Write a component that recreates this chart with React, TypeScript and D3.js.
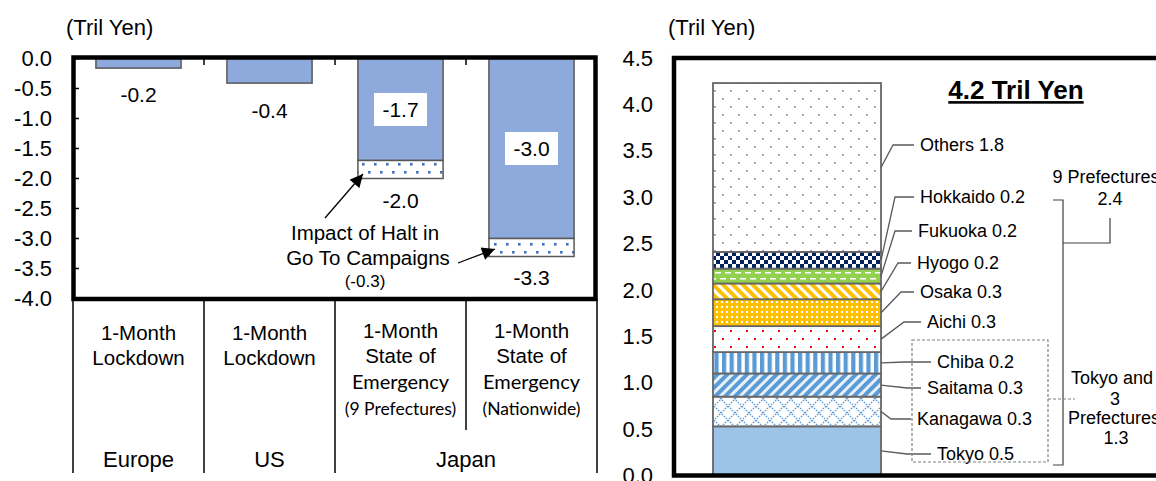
import React from 'react';
import * as d3 from 'd3';

// ---------- Left chart data ----------
const categories = ['Europe', 'US', 'Japan9', 'JapanNationwide'];
const lockdownImpact = [-0.16, -0.41, -1.7, -3.0];
const goToImpact = [0, 0, -0.3, -0.3];
const leftTicks = [0, -0.5, -1.0, -1.5, -2.0, -2.5, -3.0, -3.5, -4.0];
const catLinesMain = [
  ['1-Month', 'Lockdown'],
  ['1-Month', 'Lockdown'],
  ['1-Month', 'State of'],
  ['1-Month', 'State of'],
];
const catLinesSmall = [[], [], ['Emergency', '(9 Prefectures)'], ['Emergency', '(Nationwide)']];
const regionNames = ['Europe', 'US', 'Japan'];
const regionSpans = [[0, 0], [1, 1], [2, 3]];

// ---------- Right chart data ----------
const prefectures = ['Tokyo', 'Kanagawa', 'Saitama', 'Chiba', 'Aichi', 'Osaka', 'Hyogo', 'Fukuoka', 'Hokkaido', 'Others'];
const prefValues = [0.53, 0.32, 0.25, 0.23, 0.28, 0.29, 0.17, 0.16, 0.18, 1.82];
const rightTicks = [0, 0.5, 1.0, 1.5, 2.0, 2.5, 3.0, 3.5, 4.0, 4.5];

// ---------- Layout (positions only) ----------
const SANS = 'Liberation Sans, Arial, sans-serif';
const CAL = 'Lato, Carlito, Calibri, sans-serif';
const valueLabelOffset = [27, 28, 22, 21];
const prefLabelLayout: Record<string, { tx: number; ty: number; ex: number }> = {
  Others: { tx: 920, ty: 145, ex: 893 },
  Hokkaido: { tx: 920, ty: 197, ex: 895 },
  Fukuoka: { tx: 918, ty: 231, ex: 895 },
  Hyogo: { tx: 917, ty: 263, ex: 898 },
  Osaka: { tx: 920, ty: 292, ex: 901 },
  Aichi: { tx: 927, ty: 322, ex: 904 },
  Chiba: { tx: 937, ty: 362, ex: 905 },
  Saitama: { tx: 927, ty: 388, ex: 907 },
  Kanagawa: { tx: 917, ty: 419, ex: 891 },
  Tokyo: { tx: 937, ty: 454, ex: 907 },
};
const prefFill: Record<string, string> = {
  Tokyo: '#9DC3E6',
  Kanagawa: 'url(#pKanagawa)',
  Saitama: 'url(#pSaitama)',
  Chiba: 'url(#pChiba)',
  Aichi: 'url(#pAichi)',
  Osaka: 'url(#pOsaka)',
  Hyogo: 'url(#pHyogo)',
  Fukuoka: 'url(#pFukuoka)',
  Hokkaido: 'url(#pHokkaido)',
  Others: 'url(#pOthers)',
};

export default function App() {
  // Left scales
  const xL = d3.scaleBand<string>().domain(categories).range([73, 597]).paddingInner(0.35).paddingOuter(0.175);
  const yL = d3.scaleLinear().domain([0, -4]).range([58.5, 298.5]);
  const fmt = (v: number) => v.toFixed(1);

  // Right scales
  const yR = d3.scaleLinear().domain([0, 4.5]).range([475.5, 58]);
  const xR = d3.scaleBand<string>().domain(['total']).range([674, 920]).paddingOuter(0.232);
  const stack: { name: string; v0: number; v1: number }[] = [];
  let acc = 0;
  prefectures.forEach((p, i) => {
    stack.push({ name: p, v0: acc, v1: acc + prefValues[i] });
    acc += prefValues[i];
  });
  const total = acc;
  const ninePref = d3.sum(prefValues.slice(0, 9));
  const tokyo3 = d3.sum(prefValues.slice(0, 4));
  const bx = xR('total')!;
  const bw = xR.bandwidth();

  const step = xL.step();
  const boundary = (i: number) => 73 + i * step;

  return (
    <svg width={1156} height={481} style={{ position: 'absolute', left: 0, top: 0 }} fontFamily={SANS}>
      <defs>
        <pattern id="pGoTo" width="12" height="16" patternUnits="userSpaceOnUse">
          <rect width="12" height="16" fill="#fff" />
          <rect x="2" y="3" width="2.6" height="2.6" fill="#4472C4" />
          <rect x="8" y="11" width="2.6" height="2.6" fill="#4472C4" />
        </pattern>
        <pattern id="pOthers" width="16" height="16" patternUnits="userSpaceOnUse">
          <rect width="16" height="16" fill="#fff" />
          <rect x="2" y="2" width="1.7" height="1.7" fill="#8a8a8a" />
          <rect x="10" y="10" width="1.7" height="1.7" fill="#8a8a8a" />
        </pattern>
        <pattern id="pHokkaido" width="8" height="8" patternUnits="userSpaceOnUse">
          <rect width="8" height="8" fill="#fff" />
          <rect x="0" y="0" width="4" height="4" fill="#002060" />
          <rect x="4" y="4" width="4" height="4" fill="#002060" />
        </pattern>
        <pattern id="pFukuoka" width="10" height="12" patternUnits="userSpaceOnUse">
          <rect width="10" height="12" fill="#92D050" />
          <rect x="0" y="2" width="6" height="1.5" fill="#fff" />
          <rect x="5" y="8" width="6" height="1.5" fill="#fff" />
          <rect x="-5" y="8" width="6" height="1.5" fill="#fff" />
        </pattern>
        <pattern id="pHyogo" width="7" height="7" patternUnits="userSpaceOnUse" patternTransform="rotate(-45)">
          <rect width="7" height="7" fill="#fff" />
          <rect x="0" y="0" width="4" height="7" fill="#FFC000" />
        </pattern>
        <pattern id="pOsaka" width="5" height="5" patternUnits="userSpaceOnUse">
          <rect width="5" height="5" fill="#FFC000" />
          <rect x="1" y="1" width="2" height="2" fill="#fff" />
        </pattern>
        <pattern id="pAichi" width="16" height="16" patternUnits="userSpaceOnUse">
          <rect width="16" height="16" fill="#fff" />
          <rect x="2" y="2" width="2" height="2" fill="#FF0000" />
          <rect x="10" y="10" width="2" height="2" fill="#FF0000" />
        </pattern>
        <pattern id="pChiba" width="7.6" height="10" patternUnits="userSpaceOnUse">
          <rect width="7.6" height="10" fill="#fff" />
          <rect x="0" y="0" width="4.2" height="10" fill="#5B9BD5" />
        </pattern>
        <pattern id="pSaitama" width="7" height="7" patternUnits="userSpaceOnUse" patternTransform="rotate(45)">
          <rect width="7" height="7" fill="#e8f1fa" />
          <rect x="0" y="0" width="4" height="7" fill="#5B9BD5" />
        </pattern>
        <pattern id="pKanagawa" width="14" height="14" patternUnits="userSpaceOnUse">
          <rect width="14" height="14" fill="#fff" />
          <path d="M0,0 L14,14 M14,0 L0,14" stroke="#5B9BD5" strokeWidth="1.4" strokeDasharray="1.6,1.2" />
        </pattern>
        <marker id="arrow" viewBox="0 0 10 10" refX="10" refY="5" markerWidth="14" markerHeight="13" markerUnits="userSpaceOnUse" orient="auto">
          <path d="M0,0 L10,5 L0,10 z" fill="#000" />
        </marker>
      </defs>

      {/* ================= LEFT CHART ================= */}
      <text x={66} y={27} dy="0.35em" fontSize={22}>(Tril Yen)</text>
      {leftTicks.map((t) => (
        <g key={t}>
          <text x={52} y={yL(t)} dy="0.35em" textAnchor="end" fontSize={22}>{fmt(t)}</text>
          <line x1={73} x2={79} y1={yL(t)} y2={yL(t)} stroke="#000" strokeWidth={1.5} />
        </g>
      ))}
      {categories.map((c, i) => {
        const x = xL(c)!;
        const w = xL.bandwidth();
        const yBase = yL(lockdownImpact[i]);
        const yTot = yL(lockdownImpact[i] + goToImpact[i]);
        const cx = x + w / 2;
        const hasGoTo = goToImpact[i] !== 0;
        return (
          <g key={c}>
            <rect x={x} y={yL(0)} width={w} height={yBase - yL(0)} fill="#8EA9DB" stroke="#595959" strokeWidth={1.5} />
            {hasGoTo && (
              <rect x={x} y={yBase} width={w} height={yTot - yBase} fill="url(#pGoTo)" stroke="#595959" strokeWidth={1.5} />
            )}
            {hasGoTo && (
              <g>
                <rect x={cx - 26.5} y={(yL(0) + yBase) / 2 - 16.5} width={53} height={33} fill="#fff" />
                <text x={cx} y={(yL(0) + yBase) / 2} dy="0.35em" textAnchor="middle" fontSize={21}>{fmt(lockdownImpact[i])}</text>
              </g>
            )}
            <text x={cx} y={yTot + valueLabelOffset[i]} dy="0.35em" textAnchor="middle" fontSize={21}>
              {fmt(lockdownImpact[i] + goToImpact[i])}
            </text>
          </g>
        );
      })}
      {/* annotation */}
      <text x={365} y={233} dy="0.35em" textAnchor="middle" fontSize={20.5}>Impact of Halt in</text>
      <text x={368} y={258} dy="0.35em" textAnchor="middle" fontSize={20.5}>Go To Campaigns</text>
      <text x={365} y={281} dy="0.35em" textAnchor="middle" fontSize={17}>(-0.3)</text>
      <line x1={325} y1={218} x2={363} y2={174} stroke="#000" strokeWidth={1.3} markerEnd="url(#arrow)" />
      <line x1={458} y1={263} x2={495} y2={249} stroke="#000" strokeWidth={1.3} markerEnd="url(#arrow)" />

      {/* top ticks at category boundaries */}
      {[1, 2, 3].map((i) => (
        <line key={i} x1={boundary(i)} x2={boundary(i)} y1={58} y2={65} stroke="#000" strokeWidth={1.5} />
      ))}
      {/* frame */}
      <rect x={73.5} y={57.5} width={522} height={241.5} fill="none" stroke="#000" strokeWidth={4.5} />

      {/* category table */}
      {[0, 1, 2, 3, 4].map((i) => (
        <line key={i} x1={boundary(i)} x2={boundary(i)} y1={299} y2={i === 3 ? 430 : 473} stroke="#000" strokeWidth={1.5} />
      ))}
      {categories.map((c, i) => {
        const cx = xL(c)! + xL.bandwidth() / 2;
        const off = catLinesSmall[i].length ? -2 : 0;
        return (
          <g key={c}>
            {catLinesMain[i].map((t, j) => (
              <text key={t} x={cx} y={333 + off + j * 25} dy="0.35em" textAnchor="middle" fontSize={20.5}>{t}</text>
            ))}
            {catLinesSmall[i].map((t, j) => (
              <text key={t} x={cx} y={382 + j * 27} dy="0.35em" textAnchor="middle" fontFamily={CAL} fontSize={j === 0 ? 20 : 17.5}>{t}</text>
            ))}
          </g>
        );
      })}
      {regionNames.map((r, i) => {
        const [a, b] = regionSpans[i];
        const cx = (xL(categories[a])! + xL(categories[b])! + xL.bandwidth()) / 2;
        return (
          <text key={r} x={cx} y={459} dy="0.35em" textAnchor="middle" fontSize={22}>{r}</text>
        );
      })}

      {/* ================= RIGHT CHART ================= */}
      <text x={668} y={27} dy="0.35em" fontSize={22}>(Tril Yen)</text>
      {rightTicks.map((t) => (
        <text key={t} x={653} y={yR(t)} dy="0.35em" textAnchor="end" fontSize={22}>{fmt(t)}</text>
      ))}
      {stack.map((s) => (
        <rect key={s.name} x={bx} y={yR(s.v1)} width={bw} height={yR(s.v0) - yR(s.v1)} fill={prefFill[s.name]} stroke="#666" strokeWidth={1.8} />
      ))}
      {stack.map((s) => {
        const L = prefLabelLayout[s.name];
        const my = yR((s.v0 + s.v1) / 2);
        const val = prefValues[prefectures.indexOf(s.name)];
        return (
          <g key={s.name}>
            <path d={`M${bx + bw},${my} L${L.ex},${L.ty} L${L.tx - 6},${L.ty}`} fill="none" stroke="#595959" strokeWidth={1.3} />
            <text x={L.tx} y={L.ty} dy="0.35em" fontSize={18}>{`${s.name} ${fmt(val)}`}</text>
          </g>
        );
      })}
      <text x={1016} y={90} dy="0.35em" textAnchor="middle" fontSize={26} fontWeight="bold" textDecoration="underline">
        {`${fmt(total)} Tril Yen`}
      </text>
      {/* 9 prefectures bracket */}
      <path d="M1053,200 H1063 V465 H1053 M1063,243 H1110 V218" fill="none" stroke="#404040" strokeWidth={1.2} />
      <text x={1106} y={177} dy="0.35em" textAnchor="middle" fontSize={18}>9 Prefectures</text>
      <text x={1110} y={199} dy="0.35em" textAnchor="middle" fontSize={18}>{fmt(ninePref)}</text>
      {/* Tokyo and 3 prefectures */}
      <rect x={912} y={340} width={136} height={122} fill="none" stroke="#808080" strokeWidth={1.2} strokeDasharray="3,2" />
      <line x1={1048} x2={1075} y1={399} y2={399} stroke="#808080" strokeWidth={1.2} strokeDasharray="3,2" />
      <text x={1112} y={378} dy="0.35em" textAnchor="middle" fontSize={18}>Tokyo and</text>
      <text x={1115} y={399} dy="0.35em" textAnchor="middle" fontSize={18}>3</text>
      <text x={1114} y={418} dy="0.35em" textAnchor="middle" fontSize={18}>Prefectures</text>
      <text x={1116} y={438} dy="0.35em" textAnchor="middle" fontSize={18}>{fmt(tokyo3)}</text>
      {/* frame */}
      <rect x={674} y={58} width={520} height={417.5} fill="none" stroke="#000" strokeWidth={4.5} />
    </svg>
  );
}
